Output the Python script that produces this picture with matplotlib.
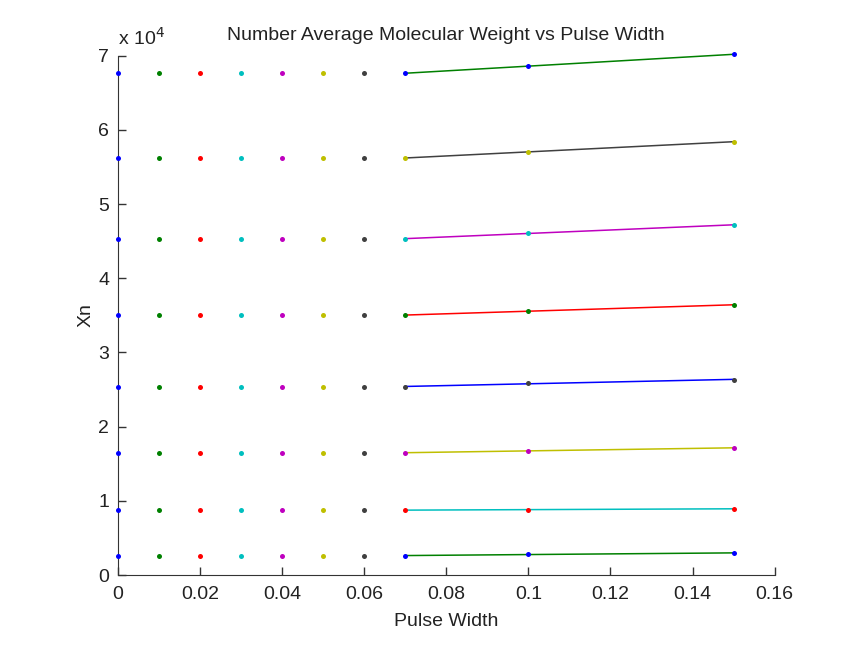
import numpy as np
import matplotlib
matplotlib.use('Agg')
import matplotlib.pyplot as plt
from matplotlib.ticker import FuncFormatter

plt.rcParams['font.family'] = ['Liberation Sans', 'DejaVu Sans']

# Data:
pulse_sweep = [0, 0.01, 0.02, 0.03, 0.04, 0.05, 0.06]
pulse_fit = [0.07, 0.1, 0.15]
xn_007 = [2600, 8770, 16460, 25360, 35030, 45280, 56200, 67620]
xn_010 = [2790, 8770, 16770, 25860, 35570, 46130, 57050, 68610]
xn_015 = [2970, 8940, 17130, 26340, 36420, 47170, 58400, 70180]

# Old matlab colour order:
cols = ['#0000ff', '#008000', '#ff0000', '#00bfbf', '#bf00bf', '#bfbf00', '#404040']
point_cols = [0, 2, 4, 6, 1, 3, 5, 0]
line_cols = [1, 3, 5, 0, 2, 4, 6, 1]

fig = plt.figure(figsize=(8.43, 6.46), dpi=100)
ax = fig.add_axes([0.1396, 0.1099, 0.7794, 0.8039])

# Sweep columns (same value for every pulse width below 0.07):
for j, x in enumerate(pulse_sweep):
    ax.plot([x] * len(xn_007), xn_007, 'o', color=cols[j], ms=3.6, mew=0,
            clip_on=False, zorder=3)

# Fitted lines and the three measured points per row:
for i in range(len(xn_007)):
    yy = [xn_007[i], xn_010[i], xn_015[i]]
    m, c = np.polyfit(pulse_fit, yy, 1)
    xl = np.array([pulse_fit[0], pulse_fit[-1]])
    ax.plot(xl, m * xl + c, '-', color=cols[line_cols[i]], lw=1.1,
            clip_on=False, zorder=2)
    ax.plot(pulse_fit, yy, 'o', color=cols[point_cols[i]], ms=3.6, mew=0,
            clip_on=False, zorder=3)

fs = 14
ax.set_xlim(0, 0.16)
ax.set_ylim(0, 70000)
ax.set_xticks([0, 0.02, 0.04, 0.06, 0.08, 0.1, 0.12, 0.14, 0.16])
ax.set_xticklabels(['0', '0.02', '0.04', '0.06', '0.08', '0.1', '0.12', '0.14', '0.16'])
ax.set_yticks(np.arange(0, 70001, 10000))
ax.yaxis.set_major_formatter(FuncFormatter(lambda v, p: '%d' % round(v / 1e4)))
for s in ['top', 'right']:
    ax.spines[s].set_visible(False)
for s in ['left', 'bottom']:
    ax.spines[s].set_color('#333333')
ax.tick_params(direction='in', length=6, width=1, colors='#333333',
               labelsize=fs, labelcolor='#222222')
ax.tick_params(axis='x', pad=8)
ax.tick_params(axis='y', pad=6)

ax.text(0.0, 1.021, r'x 10$^4$', transform=ax.transAxes, fontsize=fs,
        color='#222222', ha='left', va='baseline')
ax.set_title('Number Average Molecular Weight vs Pulse Width', fontsize=fs,
             color='#222222', pad=11)
ax.set_xlabel('Pulse Width', fontsize=fs, color='#222222', labelpad=7)
ax.set_ylabel('Xn', fontsize=fs, color='#222222', labelpad=3)

fig.savefig('out.png', dpi=100)
